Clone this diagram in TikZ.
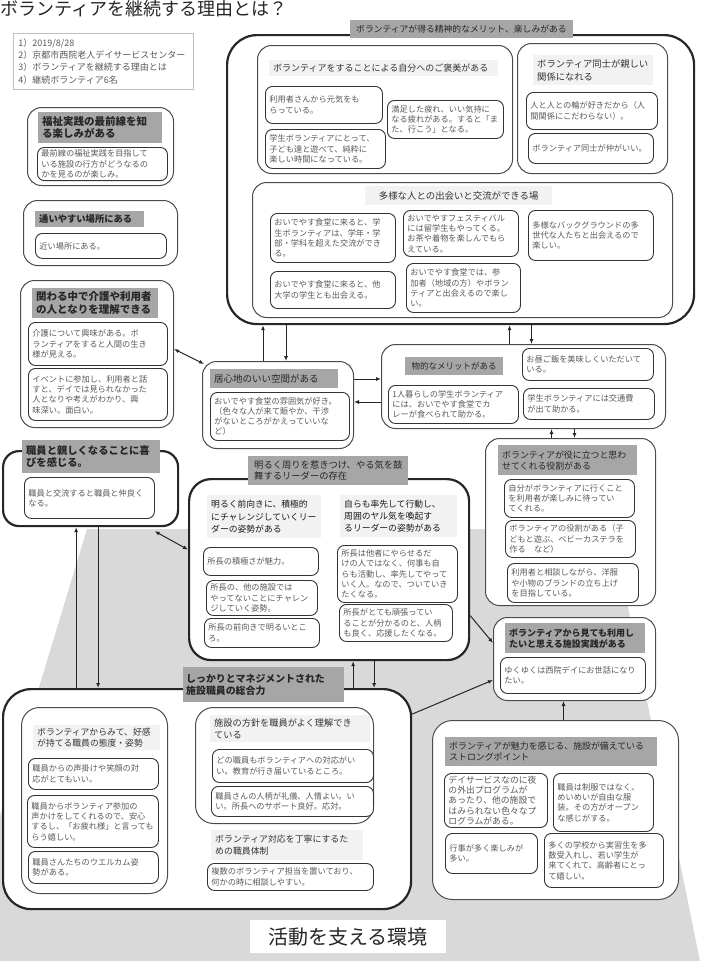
\documentclass[tikz,border=0pt]{standalone}
\usepackage{fontspec}
\setmainfont{Noto Sans CJK JP}
\usepackage{xcolor}
\usetikzlibrary{positioning,arrows.meta,calc}
\definecolor{vlgray}{RGB}{242,242,242}
\definecolor{vdgray}{RGB}{166,166,166}
\definecolor{vground}{RGB}{217,217,217}
\definecolor{vtext}{RGB}{89,89,89}
\newcommand{\itemfont}{\fontsize{8.2}{10.3}\selectfont}
\newcommand{\subfont}{\fontsize{9}{11.5}\selectfont}
\tikzset{
  bigbox/.style={draw=black!85, line width=2.2pt, rounded corners=26pt, fill=white, anchor=north west, inner sep=0pt},
  grpbox/.style={draw=black!70, line width=1pt, rounded corners=14pt, fill=white, anchor=north west, inner sep=0pt},
  itembox/.style={draw=black!80, line width=0.9pt, rounded corners=7pt, fill=white, anchor=north west, align=left, inner xsep=4pt, inner ysep=2.5pt, font=\itemfont, text=vtext},
  darkhead/.style={fill=vdgray, anchor=north west, align=left, inner xsep=4pt, inner ysep=2pt, text=black!85},
  lighthead/.style={fill=vlgray, anchor=north west, align=left, inner xsep=4pt, inner ysep=2pt, text=black!80, font=\subfont},
  arrow/.style={-{Latex[length=5pt,width=4pt]}, line width=1pt, black!85},
  twoway/.style={{Latex[length=5pt,width=4pt]}-{Latex[length=5pt,width=4pt]}, line width=1pt, black!85}
}
\begin{document}
\begin{tikzpicture}[x=1pt, y=-1pt]
  \useasboundingbox (0,0) rectangle (705,961);
  \fill[vground] (87,529) -- (612,529) -- (700,961) -- (0,961) -- (0,816) -- cycle;

  \node[anchor=north west, inner sep=0pt, font=\fontsize{18}{20}\selectfont, text=black!85] (title) at (0,0) {ボランティアを継続する理由とは？};
  \node[draw=black!25, line width=0.6pt, anchor=north west, align=left, inner sep=5pt, text width=170pt, minimum height=56pt, font=\fontsize{9}{12.3}\selectfont, text=vtext] (info) at (13,33) {1）2019/8/28\\2）京都市西院老人デイサービスセンター\\3）ボランティアを継続する理由とは\\4）継続ボランティア6名};

  % top: mental merits
  \node[bigbox, minimum width=467pt, minimum height=289pt, rounded corners=30pt] (merit) at (226,34) {};
  \node[darkhead, font=\fontsize{8.8}{10}\selectfont, inner xsep=6pt, minimum height=18pt] (merith) at (350,20) {ボランティアが得る精神的なメリット、楽しみがある};

  \node[grpbox, minimum width=255pt, minimum height=128pt] (reward) at (257,45) {};
  \node[lighthead, text width=221pt, minimum height=16pt] (rewardh) at (269,60) {ボランティアをすることによる自分へのご褒美がある};
  \node[itembox, text width=109pt, minimum height=37pt] (a1) at (265,86) {利用者さんから元気をも\\らっている。};
  \node[itembox, text width=112pt, minimum height=39pt] (a2) at (265,129) {学生ボランティアにとって、\\子ども達と遊べて、純粋に\\楽しい時間になっている。};
  \node[itembox, text width=108pt, minimum height=38pt] (a3) at (387,100) {満足した疲れ、いい気持に\\なる疲れがある。すると「ま\\た、行こう」となる。};

  \node[grpbox, minimum width=150pt, minimum height=130pt] (peer) at (517,43) {};
  \node[lighthead, font=\fontsize{9.3}{12.5}\selectfont, text width=112pt, minimum height=30pt] (peerh) at (533,55) {ボランティア同士が親しい\\関係になれる};
  \node[itembox, text width=123pt, minimum height=37pt] (b1) at (526,92) {人と人との輪が好きだから（人\\間関係にこだわらない）。};
  \node[itembox, text width=117pt, minimum height=30pt] (b2) at (528,133) {ボランティア同士が仲がいい。};

  \node[grpbox, minimum width=420pt, minimum height=135pt] (meet) at (252,182) {};
  \node[lighthead, font=\fontsize{9.4}{12}\selectfont, align=center, text width=179pt, minimum height=19pt] (meeth) at (365,186) {多様な人との出会いと交流ができる場};
  \node[itembox, text width=117pt, minimum height=49pt] (c1) at (270,213) {おいでやす食堂に来ると、学\\生ボランティアは、学年・学\\部・学科を超えた交流ができ\\る。};
  \node[itembox, text width=107pt, minimum height=46pt] (c2) at (403,210) {おいでやすフェスティバル\\には留学生もやってくる。\\お茶や着物を楽しんでもら\\えている。};
  \node[itembox, text width=117pt, minimum height=50pt] (c3) at (528,210) {多様なバックグラウンドの多\\世代な人たちと出会えるので\\楽しい。};
  \node[itembox, text width=117pt, minimum height=37pt] (c4) at (270,271) {おいでやす食堂に来ると、他\\大学の学生とも出会える。};
  \node[itembox, text width=106pt, minimum height=49pt] (c5) at (406,263) {おいでやす食堂では、参\\加者（地域の方）やボラン\\ティアと出会えるので楽し\\い。};

  % left column
  \node[grpbox, minimum width=146pt, minimum height=78pt] (front) at (27,107) {};
  \node[darkhead, font=\fontsize{10.5}{12.5}\selectfont\bfseries, text width=116pt, minimum height=31pt] (fronth) at (38,112) {福祉実践の最前線を知\\る楽しみがある};
  \node[itembox, text width=122pt, minimum height=33pt] (f1) at (37,147) {最前線の福祉実践を目指して\\いる施設の行方がどうなるの\\かを見るのが楽しみ。};

  \node[grpbox, minimum width=154pt, minimum height=65pt] (near) at (23,200) {};
  \node[darkhead, font=\fontsize{9.3}{11}\selectfont\bfseries, text width=101pt, minimum height=16pt] (nearh) at (35,211) {通いやすい場所にある};
  \node[itembox, text width=123pt, minimum height=25pt] (n1) at (35,233) {近い場所にある。};

  \node[grpbox, minimum width=153pt, minimum height=147pt] (care) at (20,280) {};
  \node[darkhead, font=\fontsize{10.5}{12.5}\selectfont\bfseries, text width=118pt, minimum height=30pt] (careh) at (32,288) {関わる中で介護や利用者\\の人となりを理解できる};
  \node[itembox, text width=131pt, minimum height=43pt] (k1) at (28,322) {介護について興味がある。ボ\\ランティアをすると人間の生き\\様が見える。};
  \node[itembox, text width=131pt, minimum height=52pt] (k2) at (28,368) {イベントに参加し、利用者と話\\すと、デイでは見られなかった\\人となりや考えがわかり、興\\味深い。面白い。};

  % middle row
  \node[grpbox, minimum width=151pt, minimum height=87pt] (cozy) at (202,361) {};
  \node[darkhead, font=\fontsize{9.5}{11}\selectfont, text width=120pt, minimum height=19pt] (cozyh) at (210,369) {居心地のいい空間がある};
  \node[itembox, text width=131pt, minimum height=48pt] (z1) at (210,392) {おいでやす食堂の雰囲気が好き。\\（色々な人が来て賑やか、干渉\\がないところがかえっていいな\\ど）};

  \node[grpbox, minimum width=284pt, minimum height=84pt] (material) at (381,344) {};
  \node[darkhead, font=\fontsize{8.5}{10}\selectfont, align=center, text width=90pt, minimum height=18pt] (materialh) at (405,357) {物的なメリットがある};
  \node[itembox, text width=122pt, minimum height=38pt] (m1) at (388,385) {1人暮らしの学生ボランティア\\には、おいでやす食堂でカ\\レーが食べられて助かる。};
  \node[itembox, text width=123pt, minimum height=32pt] (m2) at (522,348) {お昼ご飯を美味しくいただいて\\いる。};
  \node[itembox, text width=123pt, minimum height=31pt] (m3) at (523,388) {学生ボランティアには交通費\\が出て助かる。};

  % right column
  \node[grpbox, minimum width=170pt, minimum height=167pt] (role) at (485,438) {};
  \node[darkhead, font=\fontsize{8.9}{11}\selectfont, text width=131pt, minimum height=30pt] (roleh) at (498,445) {ボランティアが役に立つと思わ\\せてくれる役割がある};
  \node[itembox, text width=122pt, minimum height=38pt] (r1) at (504,479) {自分がボランティアに行くこと\\を利用者が楽しみに待ってい\\てくれる。};
  \node[itembox, text width=122pt, minimum height=37pt] (r2) at (505,520) {ボランティアの役割がある（子\\どもと遊ぶ、ベビーカステラを\\作る　など）};
  \node[itembox, text width=123pt, minimum height=39pt] (r3) at (507,563) {利用者と相談しながら、洋服\\や小物のブランドの立ち上げ\\を目指している。};

  \node[grpbox, minimum width=162pt, minimum height=83pt] (useful) at (493,617) {};
  \node[darkhead, font=\fontsize{9}{11}\selectfont\bfseries, text width=132pt, minimum height=30pt] (usefulh) at (505,623) {ボランティアから見ても利用し\\たいと思える施設実践がある};
  \node[itembox, text width=137pt, minimum height=36pt] (u1) at (500,657) {ゆくゆくは西院デイにお世話になり\\たい。};

  \node[grpbox, minimum width=246pt, minimum height=179pt, rounded corners=20pt] (strong) at (432,720) {};
  \node[darkhead, font=\fontsize{8.9}{11}\selectfont, text width=204pt, minimum height=29pt] (strongh) at (445,737) {ボランティアが魅力を感じる、施設が備えている\\ストロングポイント};
  \node[itembox, text width=95pt, minimum height=54pt, font=\fontsize{8.8}{10.2}\selectfont] (s1) at (444,773) {デイサービスなのに夜\\の外出プログラムが\\あったり、他の施設で\\はみられない色々なプ\\ログラムがある。};
  \node[itembox, text width=92pt, minimum height=58pt] (s2) at (553,773) {職員は制服ではなく、\\めいめいが自由な服\\装。その方がオープン\\な感じがする。};
  \node[itembox, text width=84pt, minimum height=40pt] (s3) at (445,833) {行事が多く楽しみが\\多い。};
  \node[itembox, text width=111pt, minimum height=54pt] (s4) at (544,833) {多くの学校から実習生を多\\数受入れし、若い学生が\\来てくれて、高齢者にとっ\\て嬉しい。};

  % staff, leader, management
  \node[bigbox, minimum width=175pt, minimum height=75pt, rounded corners=16pt] (shin) at (2,450) {};
  \node[darkhead, font=\fontsize{10.3}{12}\selectfont\bfseries, text width=130pt, minimum height=33pt] (shinh) at (22,440) {職員と親しくなることに喜\\びを感じる。};
  \node[itembox, text width=122pt, minimum height=41pt] (h1) at (24,477) {職員と交流すると職員と仲良く\\なる。};

  \node[bigbox, minimum width=280pt, minimum height=181pt, rounded corners=22pt] (lead) at (188,478) {};
  \node[darkhead, font=\fontsize{9.3}{11.5}\selectfont, inner xsep=6pt, text width=148pt, minimum height=29pt] (leadh) at (248,456) {明るく周りを惹きつけ、やる気を鼓\\舞するリーダーの存在};
  \node[lighthead, font=\fontsize{8.8}{12.2}\selectfont, text=black!90, text width=106pt, minimum height=43pt] (leadl) at (207,495) {明るく前向きに、積極的\\にチャレンジしていくリー\\ダーの姿勢がある};
  \node[lighthead, font=\fontsize{8.8}{12.2}\selectfont, text=black!90, text width=109pt, minimum height=42pt] (leadr) at (340,495) {自らも率先して行動し、\\周囲のヤル気を喚起す\\るリーダーの姿勢がある};
  \node[itembox, text width=107pt, minimum height=28pt] (l1) at (203,547) {所長の積極さが魅力。};
  \node[itembox, text width=103pt, minimum height=35pt] (l2) at (206,580) {所長の、他の施設では\\やってないことにチャレン\\ジしていく姿勢。};
  \node[itembox, text width=107pt, minimum height=29pt] (l3) at (204,618) {所長の前向きで明るいとこ\\ろ。};
  \node[itembox, text width=112pt, minimum height=57pt] (l4) at (337,545) {所長は他者にやらせるだ\\けの人ではなく、何事も自\\らも活動し、率先してやって\\いく人。なので、ついていき\\たくなる。};
  \node[itembox, text width=105pt, minimum height=37pt] (l5) at (339,604) {所長がとても頑張ってい\\ることが分かるのと、人柄\\も良く、応援したくなる。};

  \node[bigbox, minimum width=408pt, minimum height=220pt, rounded corners=28pt] (manage) at (2,688) {};
  \node[darkhead, font=\fontsize{9.9}{12}\selectfont\bfseries, inner xsep=3pt, text width=155pt, minimum height=35pt] (manageh) at (183,667) {しっかりとマネジメントされた\\施設職員の総合力};

  \node[grpbox, minimum width=146pt, minimum height=186pt, rounded corners=18pt] (attitude) at (21,707) {};
  \node[lighthead, font=\fontsize{8.8}{11}\selectfont, text width=119pt, minimum height=25pt] (attitudeh) at (33,725) {ボランティアからみて、好感\\が持てる職員の態度・姿勢};
  \node[itembox, text width=122pt, minimum height=31pt] (t1) at (28,758) {職員からの声掛けや笑顔の対\\応がとてもいい。};
  \node[itembox, text width=123pt, minimum height=52pt] (t2) at (27,795) {職員からボランティア参加の\\声かけをしてくれるので、安心\\するし、「お疲れ様」と言っても\\らう嬉しい。};
  \node[itembox, text width=122pt, minimum height=32pt] (t3) at (28,851) {職員さんたちのウエルカム姿\\勢がある。};

  \node[grpbox, minimum width=178pt, minimum height=116pt, rounded corners=18pt] (policy) at (195,707) {};
  \node[lighthead, font=\fontsize{9.2}{11.5}\selectfont, text width=152pt, minimum height=27pt] (policyh) at (210,715) {施設の方針を職員がよく理解でき\\ている};
  \node[itembox, text width=153pt, minimum height=33pt] (p1) at (212,749) {どの職員もボランティアへの対応がい\\い。教育が行き届いているところ。};
  \node[itembox, text width=154pt, minimum height=30pt] (p2) at (211,786) {職員さんの人柄が礼儀、人情よい。い\\い。所長へのサポート良好。応対。};
  \node[lighthead, font=\fontsize{8.9}{11.5}\selectfont, text width=144pt, minimum height=30pt] (staffh) at (211,830) {ボランティア対応を丁寧にするた\\めの職員体制};
  \node[itembox, text width=158pt, minimum height=27pt] (p3) at (207,863) {複数のボランティア担当を置いており、\\何かの時に相談しやすい。};

  \node[fill=white, anchor=north west, minimum width=196pt, minimum height=33pt, font=\fontsize{20}{22}\selectfont, text=black!85] (env) at (250,920) {活動を支える環境};

  % connectors
  \draw[twoway] ([yshift=5pt]care.east) -- ([xshift=2pt,yshift=-3pt]cozy.north west);
  \draw[arrow] ([xshift=-15pt]cozy.north) -- ([xshift=-15pt]cozy.north |- merit.south);
  \draw[arrow] ([xshift=8pt]cozy.north |- merit.south) -- ([xshift=8pt]cozy.north);
  \draw[arrow] ([yshift=26pt]cozy.east) -- ([yshift=26pt]cozy.east -| material.west);
  \draw[arrow] ([yshift=3pt]cozy.east -| material.west) -- ([yshift=3pt]cozy.east);
  \draw[arrow] ([xshift=-14pt]material.north) -- ([xshift=-14pt]material.north |- merit.south);
  \draw[arrow] ([xshift=8pt]material.north |- merit.south) -- ([xshift=8pt]material.north);
  \draw[arrow] ([xshift=-19pt]role.north) -- ([xshift=-19pt]role.north |- material.south);
  \draw[arrow] ([xshift=4pt]role.north |- material.south) -- ([xshift=4pt]role.north);
  \draw[twoway] ([xshift=64pt,yshift=-4pt]shin.south) -- ([yshift=20pt]lead.west);
  \draw[arrow] ([xshift=-14.5pt]shin.south |- manage.north) -- ([xshift=-14.5pt]shin.south);
  \draw[arrow] ([xshift=7.5pt]shin.south) -- ([xshift=7.5pt]shin.south |- manage.north);
  \draw[arrow] ([xshift=24pt]lead.south |- manage.north) -- ([xshift=24pt]lead.south);
  \draw[arrow] ([xshift=45pt]lead.south) -- ([xshift=45pt]lead.south |- manage.north);
  \draw[arrow] ([yshift=-46pt]lead.east) -- ([yshift=16pt]useful.west);
  \draw[arrow] ([yshift=85pt]manage.east) -- ([yshift=-21pt]useful.west);
  \draw[arrow] ([xshift=8pt]strong.north) -- ([xshift=8pt]strong.north |- useful.south);
\end{tikzpicture}
\end{document}
